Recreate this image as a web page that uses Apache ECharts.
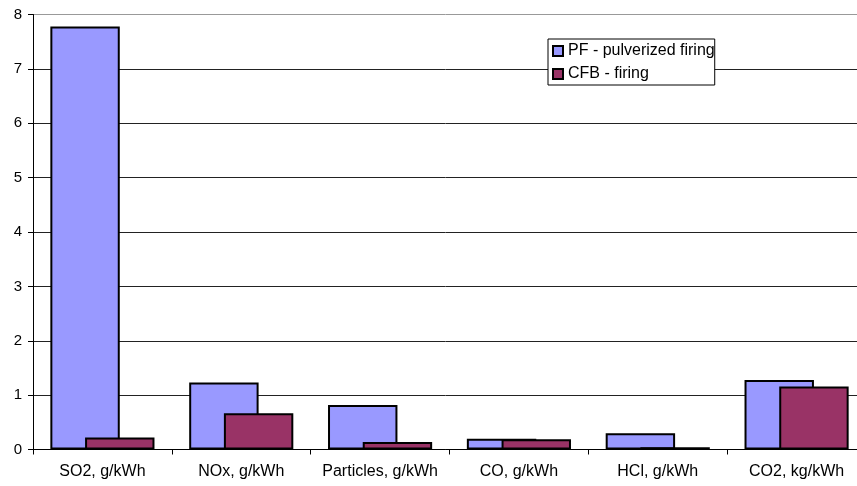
<!DOCTYPE html>
<html><head><meta charset="utf-8">
<script src="https://cdn.jsdelivr.net/npm/echarts@6/dist/echarts.min.js"></script>
<style>html,body{margin:0;padding:0;background:#fff}#c{width:857px;height:486px}</style>
</head><body><div id="c"></div>
<script>
const categories = ['SO2, g/kWh','NOx, g/kWh','Particles, g/kWh','CO, g/kWh','HCl, g/kWh','CO2, kg/kWh'];
const pfValues = [7.78, 1.23, 0.82, 0.20, 0.30, 1.28];
const cfbValues = [0.22, 0.665, 0.14, 0.19, 0.04, 1.16];
const seriesNames = ['PF - pulverized firing', 'CFB - firing'];
const yTicks = {min: 0, max: 8, interval: 1};

const chart = echarts.init(document.getElementById('c'), null, {renderer: 'canvas'});
const font = 'Liberation Sans, Arial, sans-serif';
chart.setOption({
  animation: false,
  backgroundColor: '#fff',
  textStyle: {fontFamily: font},
  grid: {left: 33, width: 833, top: 14.5, bottom: 36.5, containLabel: false, outerBoundsMode: 'none'},
  legend: {
    orient: 'vertical', left: 548, top: 39,
    backgroundColor: '#fff', borderColor: '#000', borderWidth: 1,
    padding: [4, 0, 3, 4], itemGap: 7, itemWidth: 10, itemHeight: 10, itemTextGap: 3,
    icon: 'rect',
    textStyle: {fontFamily: font, fontSize: 16, color: '#000'},
    data: seriesNames
  },
  xAxis: {
    type: 'category', data: categories,
    axisLine: {lineStyle: {color: '#000', width: 1}},
    axisTick: {show: true, length: 5, lineStyle: {color: '#000'}},
    axisLabel: {color: '#000', fontSize: 16, margin: 14, fontFamily: font, interval: 0}
  },
  yAxis: {
    type: 'value', min: yTicks.min, max: yTicks.max, interval: yTicks.interval,
    axisLine: {show: true, lineStyle: {color: '#000', width: 1}},
    axisTick: {show: true, length: 5, lineStyle: {color: '#000'}},
    axisLabel: {color: '#000', fontSize: 15, margin: 11, fontFamily: font},
    splitLine: {show: true, lineStyle: {color: ['#222','#222','#222','#222','#222','#222','#222','#222','#999'], width: 1}}
  },
  series: [
    {name: seriesNames[0], type: 'bar', data: pfValues, barWidth: '50%', barGap: '-50%',
     itemStyle: {color: '#9999FF', borderColor: '#000', borderWidth: 2}},
    {name: seriesNames[1], type: 'bar', data: cfbValues, barWidth: '50%', barGap: '-50%',
     itemStyle: {color: '#993366', borderColor: '#000', borderWidth: 2}}
  ]
});
</script></body></html>
